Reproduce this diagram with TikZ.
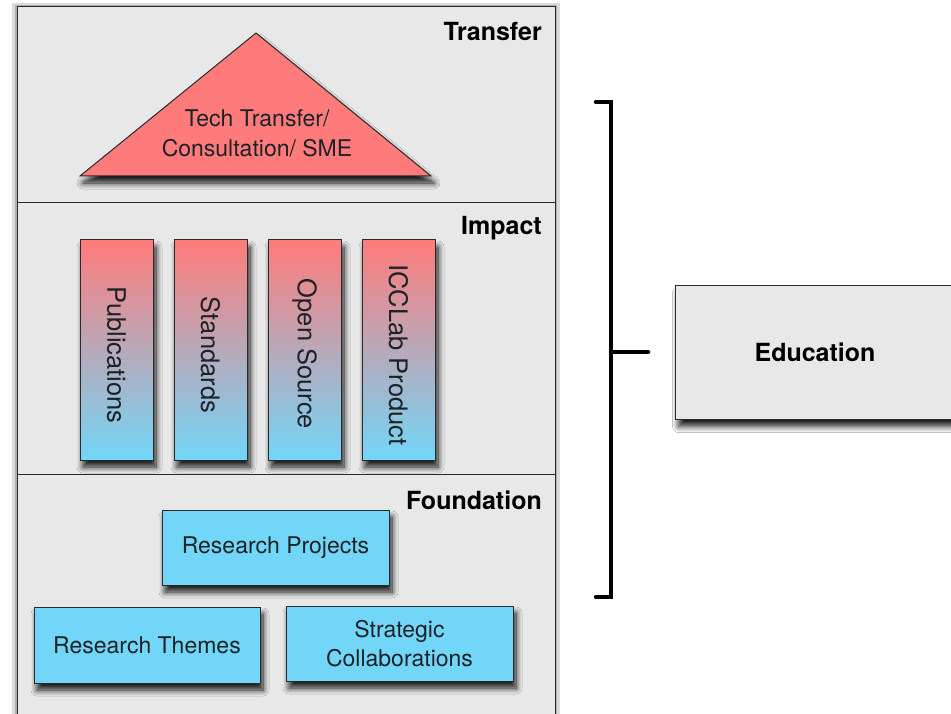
\documentclass[tikz,border=0pt]{standalone}
\usepackage{fontspec}
\setmainfont{TeX Gyre Heros}
\usetikzlibrary{shadows.blur}
\definecolor{panel}{HTML}{E8E8E8}
\definecolor{edge}{HTML}{2A2A2A}
\definecolor{redfill}{HTML}{FF7B7B}
\definecolor{cyanfill}{HTML}{72D6F8}
\definecolor{txt}{HTML}{1C2226}
\tikzset{
  section/.style={draw=edge, line width=1pt, fill=panel},
  sectitle/.style={anchor=east, font=\fontsize{25}{29}\selectfont\bfseries, text=black, inner sep=0pt},
  shadowed/.style={blur shadow={shadow xshift=3pt, shadow yshift=-7pt, shadow blur steps=10, shadow blur radius=6pt, shadow opacity=90}},
  pillar/.style={draw=edge, line width=1pt, top color=redfill, bottom color=cyanfill, shadowed},
  pillartext/.style={rotate=-90, font=\fontsize{25.5}{29}\selectfont, text=txt, inner sep=0pt},
  bluebox/.style={draw=edge, line width=1pt, fill=cyanfill, shadowed, font=\fontsize{23}{29}\selectfont, text=txt, align=center, inner sep=0pt},
  bracket/.style={line width=4.5pt, black, line cap=round, line join=miter},
}
\begin{document}
\begin{tikzpicture}[x=1pt, y=-1pt]
\useasboundingbox (0,0) rectangle (951,714);
\fill[white] (0,0) rectangle (951,714);
% sections
\begin{scope}
\clip (0,0) rectangle (951,714);
\fill[black!70, opacity=0.2] (12,3) rectangle (560,730);
\fill[black!70, opacity=0.3] (15,5) rectangle (557,730);
\draw[section] (17,7) rectangle (555,203);
\draw[section] (17,203) rectangle (555,474);
\draw[section] (17,474) rectangle (555,740);
\end{scope}
\node[sectitle] (ttransfer) at (542,32) {Transfer};
\node[sectitle] (timpact) at (542,228) {Impact};
\node[sectitle] (tfound) at (542,500) {Foundation};
% triangle
\coordinate (apex) at (256,33);
\coordinate (bl) at (80,176);
\coordinate (br) at (431,176);
\path[draw=edge, line width=1pt, fill=redfill, shadowed] (apex) -- (br) -- (bl) -- cycle;
\node[font=\fontsize{23}{30}\selectfont, text=txt, align=center] (tech) at (257,133) {Tech Transfer/\\Consultation/ SME};
% pillars
\node[pillar, minimum width=73pt, minimum height=220pt, inner sep=0pt] (p1) at (116.5,350) {};
\node[pillar, minimum width=73pt, minimum height=220pt, inner sep=0pt] (p2) at (210.5,350) {};
\node[pillar, minimum width=73pt, minimum height=220pt, inner sep=0pt] (p3) at (304.5,350) {};
\node[pillar, minimum width=73pt, minimum height=220pt, inner sep=0pt] (p4) at (398.5,350) {};
\node[pillartext] (l1) at (116.5,355) {Publications};
\node[pillartext] (l2) at (210.5,355) {Standards};
\node[pillartext] (l3) at (304.5,354) {Open Source};
\node[pillartext] (l4) at (398.5,355) {ICCLab Product};
% foundation boxes
\node[bluebox, minimum width=227pt, minimum height=75pt] (rp) at (275.5,547.5) {Research Projects};
\node[bluebox, minimum width=226pt, minimum height=76pt] (rt) at (147,645) {Research Themes};
\node[bluebox, minimum width=227pt, minimum height=75pt] (sc) at (399.5,643.5) {Strategic\\Collaborations};
% bracket
\coordinate (bt0) at (596,102);
\coordinate (bt1) at (611,102);
\coordinate (bb1) at (611,597);
\coordinate (bb0) at (596,597);
\coordinate (bm) at (611,352);
\coordinate (bmend) at (648,352);
\draw[bracket] (bt0) -- (bt1) -- (bb1) -- (bb0);
\draw[bracket] (bm) -- (bmend);
% education
\begin{scope}
\clip (0,0) rectangle (951,714);
\node[draw=edge, line width=1pt, fill=panel, shadowed, minimum width=300pt, minimum height=134pt, inner sep=0pt, anchor=north west] (edu) at (675,285) {};
\end{scope}
\node[font=\fontsize{25}{29}\selectfont\bfseries, text=black] (edut) at (815,352) {Education};
\end{tikzpicture}
\end{document}
